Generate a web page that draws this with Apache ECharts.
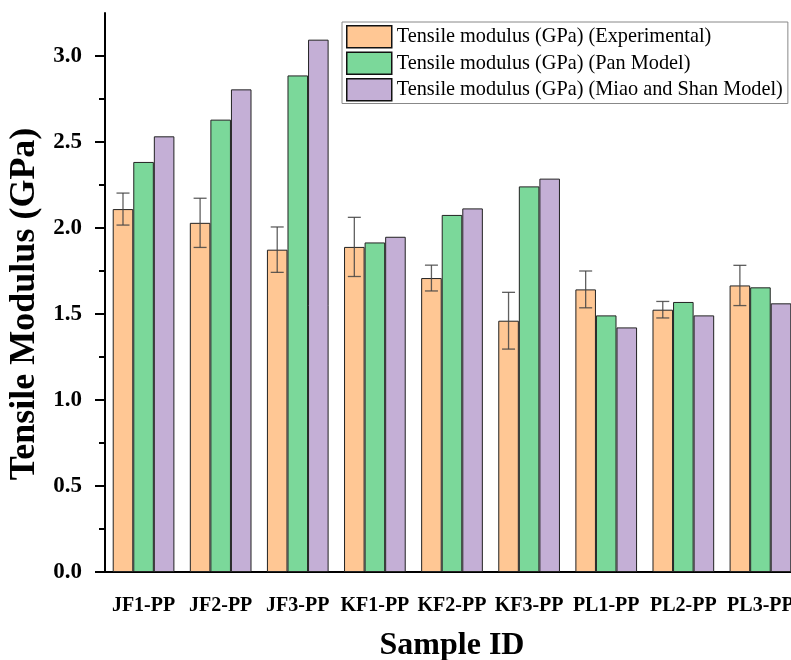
<!DOCTYPE html>
<html>
<head>
<meta charset="utf-8">
<script src="https://cdn.jsdelivr.net/npm/echarts@6/dist/echarts.min.js"></script>
<style>html,body{margin:0;padding:0;background:#fff;overflow:hidden;}#chart{width:791px;height:660px;}</style>
</head>
<body>
<div id="chart"></div>
<script>
const categories = ['JF1-PP','JF2-PP','JF3-PP','KF1-PP','KF2-PP','KF3-PP','PL1-PP','PL2-PP','PL3-PP'];
const experimental = [2.110, 2.030, 1.874, 1.890, 1.709, 1.461, 1.643, 1.525, 1.666];
const experimentalErr = [0.093, 0.143, 0.132, 0.172, 0.075, 0.165, 0.107, 0.048, 0.117];
const panModel = [2.384, 2.630, 2.887, 1.916, 2.076, 2.242, 1.492, 1.570, 1.655];
const miaoShanModel = [2.533, 2.806, 3.095, 1.949, 2.114, 2.287, 1.422, 1.492, 1.562];
const yMajorTicks = [0, 0.5, 1.0, 1.5, 2.0, 2.5, 3.0];
const yMinorTicks = [0.25, 0.75, 1.25, 1.75, 2.25, 2.75];
const seriesNames = [
  'Tensile modulus (GPa) (Experimental)',
  'Tensile modulus (GPa) (Pan Model)',
  'Tensile modulus (GPa) (Miao and Shan Model)'
];
const colors = ['#FFC794', '#7BD89A', '#C4AFD6'];

const serif = '"Liberation Serif", "Times New Roman", serif';
const chart = echarts.init(document.getElementById('chart'));
const BAR_GAP = 0.2;

const errData = experimental.map((v, i) => [i, v, experimentalErr[i]]);

chart.setOption({
  animation: false,
  backgroundColor: '#fff',
  grid: { left: 105, width: 694, top: 13, bottom: 88, containLabel: false, outerBoundsMode: 'none' },
  legend: {
    data: seriesNames,
    orient: 'vertical',
    left: 342, top: 22,
    padding: [3, 5, 2, 4],
    itemWidth: 45, itemHeight: 22, itemGap: 3,
    borderColor: '#888', borderWidth: 1,
    icon: 'rect',
    itemStyle: { borderColor: '#111', borderWidth: 1.5 },
    textStyle: { fontFamily: serif, fontSize: 20.3, color: '#000', lineHeight: 22 }
  },
  xAxis: {
    type: 'category',
    data: categories,
    name: 'Sample ID',
    nameLocation: 'middle',
    nameGap: 58,
    nameTextStyle: { fontFamily: serif, fontSize: 32, fontWeight: 'bold', color: '#000' },
    axisLine: { lineStyle: { color: '#000', width: 2 } },
    axisTick: { alignWithLabel: true, length: 11, lineStyle: { color: '#000', width: 2 } },
    axisLabel: { fontFamily: serif, fontSize: 20, fontWeight: 'bold', color: '#000', margin: 24, interval: 0 },
    splitLine: { show: false }
  },
  yAxis: [{
    type: 'value',
    min: 0, max: 3.25,
    name: 'Tensile Modulus (GPa)',
    nameLocation: 'middle',
    nameGap: 60,
    nameTextStyle: { fontFamily: serif, fontSize: 36, fontWeight: 'bold', color: '#000', padding: [0, 23, 0, 0] },
    axisLine: { show: true, lineStyle: { color: '#000', width: 2 } },
    axisTick: { show: true, length: 10, customValues: yMajorTicks, lineStyle: { color: '#000', width: 2 } },
    axisLabel: { fontFamily: serif, fontSize: 23, fontWeight: 'bold', color: '#000', margin: 23,
      customValues: yMajorTicks, formatter: v => v.toFixed(1) },
    splitLine: { show: false }
  }, {
    type: 'value',
    min: 0, max: 3.25,
    position: 'left',
    axisLine: { show: false },
    axisTick: { show: true, length: 6, customValues: yMinorTicks, lineStyle: { color: '#000', width: 2 } },
    axisLabel: { show: false },
    splitLine: { show: false }
  }],
  series: [
    { name: seriesNames[0], type: 'bar', data: experimental, barGap: '0%', barCategoryGap: '20%',
      itemStyle: { color: colors[0], borderColor: '#222', borderWidth: 1 } },
    { name: seriesNames[1], type: 'bar', data: panModel, barGap: '0%', barCategoryGap: '20%',
      itemStyle: { color: colors[1], borderColor: '#222', borderWidth: 1 } },
    { name: seriesNames[2], type: 'bar', data: miaoShanModel, barGap: '0%', barCategoryGap: '20%',
      itemStyle: { color: colors[2], borderColor: '#222', borderWidth: 1 } },
    {
      name: 'err', type: 'custom', z: 10, data: errData,
      renderItem: function (params, api) {
        const idx = api.value(0), v = api.value(1), e = api.value(2);
        const band = api.size([1, 0])[0];
        const barW = band * (1 - BAR_GAP) / 3;
        const c = api.coord([idx, v]);
        const x = c[0] - barW;
        const yTop = api.coord([idx, v + e])[1];
        const yBot = api.coord([idx, v - e])[1];
        const cap = 6.5;
        const st = { stroke: '#444', lineWidth: 1.3, opacity: 0.85 };
        return { type: 'group', children: [
          { type: 'line', shape: { x1: x, y1: yTop, x2: x, y2: yBot }, style: st },
          { type: 'line', shape: { x1: x - cap, y1: yTop, x2: x + cap, y2: yTop }, style: st },
          { type: 'line', shape: { x1: x - cap, y1: yBot, x2: x + cap, y2: yBot }, style: st }
        ]};
      }
    }
  ]
});
</script>
</body>
</html>
